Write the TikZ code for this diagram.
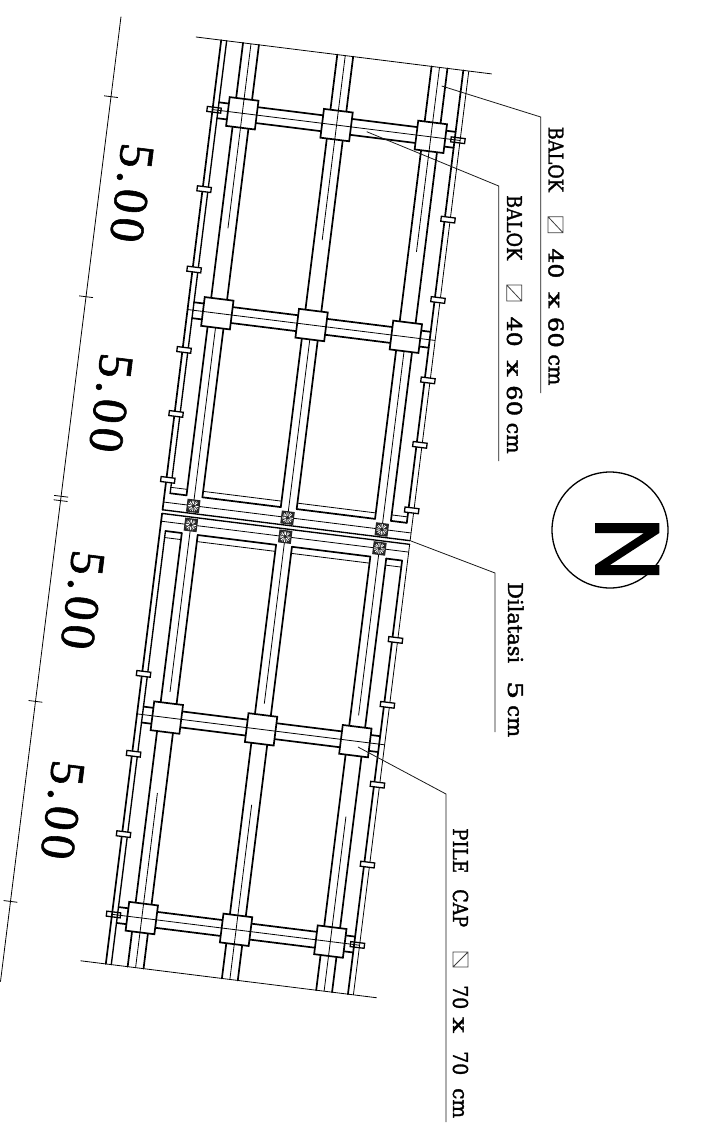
\documentclass[tikz,border=0pt]{standalone}
\usepackage{fontspec}
\newfontfamily\dimfont[LetterSpace=9,FakeBold=1.2]{Liberation Serif}
\newfontfamily\labfont[FakeBold=1.6]{DejaVu Serif}
\newcommand\fitw[2]{\resizebox{#1pt}{\height}{#2}}
\tikzset{
  thk/.style={line width=1.7pt,line cap=round},
  med/.style={line width=1.35pt,line cap=round},
  thn/.style={line width=.8pt},
  lead/.style={line width=.8pt,black!90},
  capbox/.style={fill=white,draw=black,line width=1.7pt},
  cleat/.style={draw=black,line width=1.3pt},
  dimtxt/.style={font=\dimfont\fontsize{49}{49}\selectfont,rotate=-97.12,inner sep=0pt},
  labtxt/.style={font=\labfont\fontsize{20.5}{20.5}\selectfont,rotate=-90,anchor=base west,inner sep=0pt},
  symb/.style={draw=black!75,line width=.8pt}
}
\begin{document}
\begin{tikzpicture}[x=1pt,y=-1pt]
\useasboundingbox (0,0) rectangle (715,1125);
% ---- plan, local axes: u across, v along
\begin{scope}[shift={(242.3,113.3)},rotate=-7.12]
  % break lines
  \draw[thn] (-55.5,-70) -- (242.5,-70);
  \draw[thn] (-55.5,861) -- (243,861);
  % edge lines
  \draw[thk] (-30,-70) -- (-30,403.3);
  \draw[med] (-24.5,-70) -- (-24.5,386);
  \draw[thk] (214,-70) -- (214,386);
  \draw[thn] (219.5,-70) -- (219.5,403.3);
  \draw[thk] (-30,407) -- (-30,861);
  \draw[med] (-24.5,424) -- (-24.5,861);
  \draw[thk] (214,424) -- (214,861);
  \draw[thn] (219.5,407) -- (219.5,861);
  % long beams
  \foreach \c in {0,95,190}{
    \draw[thk] (\c-8,-70) -- (\c-8,386) (\c+8,-70) -- (\c+8,386);
    \draw[thk] (\c-8,424) -- (\c-8,861) (\c+8,424) -- (\c+8,861);
    \draw[thn] (\c,-70) -- (\c,14);
    \draw[thn] (\c,14) -- (\c,116);
    \draw[thn] (\c,215) -- (\c,390);
    \draw[thn] (\c,420) -- (\c,583);
    \draw[thn] (\c,685) -- (\c,861);
  }
  % dilatation bands
  \foreach \a/\b in {-24.5/-8,8/87,103/182,198/214}{
    \draw[thk] (\a,386) -- (\b,386);
    \draw[thn] (\a,380) -- (\b,380);
    \draw[thk] (\a,424) -- (\b,424);
    \draw[thn] (\a,430.6) -- (\b,430.6);
  }
  \draw[thn] (-30,395.5) -- (219.5,395.5);
  \draw[thn] (-30,414.8) -- (219.5,414.8);
  \draw[med] (-30,403.3) -- (219.5,403.3);
  \draw[med] (-30,407) -- (219.5,407);
  % cross beams
  \foreach \r in {0,201.5,609,811}{
    \draw[thk] (-24.5,\r-8) -- (214,\r-8) (-24.5,\r+8) -- (214,\r+8);
    \draw[thn] (-30,\r) -- (219.5,\r);
  }
  % pile caps
  \foreach \r in {0,201.5,609,811}{
    \foreach \c in {0,95,190}{
      \draw[capbox] (\c-14.5,\r-14.5) rectangle (\c+14.5,\r+14.5);
      \draw[thn] (\c-14.5,\r) -- (\c+14.5,\r);
    }
  }
  \foreach \r in {0,811}{
    \foreach \c in {0,95,190}{
      \draw[thn] (\c,\r-14.5) -- (\c,\r+14.5);
    }
  }
  % cleats
  \foreach \v in {80,161,242,306.5,373}{
    \draw[cleat,fill=white] (-28.5-7,\v-2.5) rectangle (-28.5+7,\v+2.5);
  }
  \foreach \v in {80,161,242,307,373}{
    \draw[cleat,fill=white] (217.3-7,\v-2.5) rectangle (217.3+7,\v+2.5);
  }
  \foreach \v in {568.5,649,730}{
    \draw[cleat,fill=white] (-28.5-7,\v-2.5) rectangle (-28.5+7,\v+2.5);
  }
  \foreach \v in {503.6,569,649.5,730}{
    \draw[cleat,fill=white] (217.3-7,\v-2.5) rectangle (217.3+7,\v+2.5);
  }
  \foreach \v in {0,811}{
    \draw[cleat] (-28.5-7,\v-2.5) rectangle (-28.5+7,\v+2.5);
    \draw[cleat] (217.3-7,\v-2.5) rectangle (217.3+7,\v+2.5);
  }
  % hatched blocks
  \foreach \v in {395.7,414.8}{
    \foreach \c in {0,95,190}{
      \begin{scope}[shift={(\c,\v)}]
        \fill[black!85] (-6,-6) rectangle (6,6);
        \foreach \a in {0,45,...,315}{
          \draw[white,line width=.9pt] (\a:1.8) -- (\a:5.4);
        }
        \foreach \a in {22,68,...,338}{
          \draw[white,line width=.5pt] (\a:3) -- (\a:5.6);
        }
        \draw[black!85,line width=1pt] (-6,-6) rectangle (6,6);
      \end{scope}
    }
  }
\end{scope}
% ---- dimension line
\begin{scope}[shift={(121,16.7)},rotate=-7.12]
  \coordinate (dimA) at (0,0);
  \coordinate (dimB) at (0,972.6);
  \draw[thn] (dimA) -- (dimB);
  \foreach \v in {80.6,282.2,483.3,487.7,690,891.6}{
    \draw[thn] (-7,\v) -- (7,\v);
  }
\end{scope}
\node[dimtxt] (d1) at (131.7,193) {5.00};
\node[dimtxt] (d2) at (110.8,403) {5.00};
\node[dimtxt] (d3) at (82.5,600) {5.00};
\node[dimtxt] (d4) at (62.5,810) {5.00};
% ---- labels
\node[labtxt] (balokA) at (548.5,126.7) {\fitw{65}{BALOK}\hspace{56.5pt}\fitw{30}{40}\hspace{13.5pt}\fitw{16.5}{x}\hspace{8.5pt}\fitw{31}{60}\hspace{6.5pt}\fitw{31}{cm}};
\node[labtxt] (balokB) at (507,195) {\fitw{65}{BALOK}\hspace{56.5pt}\fitw{30}{40}\hspace{13.5pt}\fitw{16.5}{x}\hspace{8.5pt}\fitw{31}{60}\hspace{6.5pt}\fitw{31}{cm}};
\node[labtxt] (dil) at (508,582) {\fitw{81}{Dilatasi}\hspace{18pt}\fitw{18}{5}\hspace{6pt}\fitw{32}{cm}};
\node[labtxt] (pile) at (453,828) {\fitw{45}{PILE}\hspace{16pt}\fitw{38}{CAP}\hspace{58pt}\fitw{24}{70}\hspace{8pt}\fitw{16}{x}\hspace{18pt}\fitw{24}{70}\hspace{13pt}\fitw{30}{cm}};
% section symbols
\draw[symb] (548,216.7) rectangle (563,232.7) (548,216.7) -- (563,232.7);
\draw[symb] (506.7,285) rectangle (521.7,301) (506.7,285) -- (521.7,301);
\draw[symb] (453,952) rectangle (468,967) (453,967) -- (468,952);
% ---- leaders
\coordinate (lA0) at (441.7,86);   \coordinate (lA1) at (540.7,117);  \coordinate (lA2) at (540.7,393);
\coordinate (lB0) at (366.7,131.7);\coordinate (lB1) at (498.7,186);  \coordinate (lB2) at (498.7,461);
\coordinate (lC0) at (411,541);    \coordinate (lC1) at (495,573);    \coordinate (lC2) at (495,732);
\coordinate (lD0) at (358,747);    \coordinate (lD1) at (446,794);    \coordinate (lD2) at (446,1122);
\draw[lead] (lA0) -- (lA1) -- (lA2);
\draw[lead] (lB0) -- (lB1) -- (lB2);
\draw[lead] (lC0) -- (lC1) -- (lC2);
\draw[lead] (lD0) -- (lD1) -- (lD2);
% ---- north sign
\node[circle,draw=black,line width=1.3pt,minimum size=116pt,inner sep=0pt] (north) at (610,530) {};
\fill[black] (595,523) -- (659.3,523) -- (659.3,533) -- (610,565) -- (659.3,565) -- (659.3,575) -- (595,575) -- (595,565) -- (644,533) -- (595,533) -- cycle;
\end{tikzpicture}
\end{document}
